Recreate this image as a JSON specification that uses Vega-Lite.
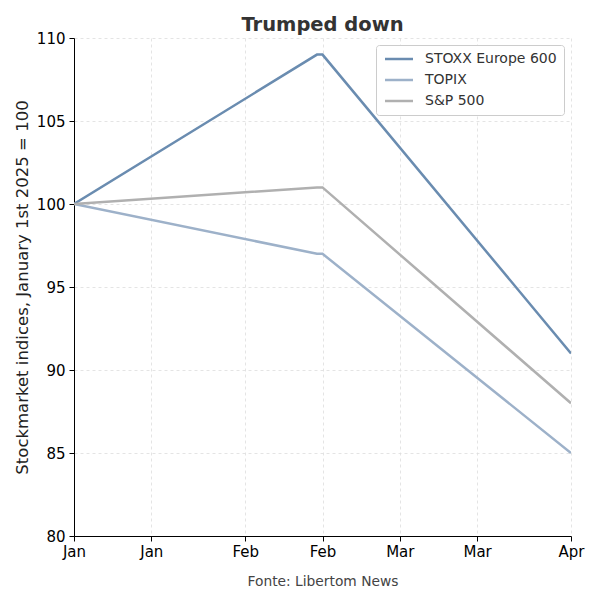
{
  "$schema": "https://vega.github.io/schema/vega-lite/v6.json",
  "autosize": "none",
  "width": 497,
  "height": 498,
  "padding": {"left": 74, "top": 38, "right": 29, "bottom": 64},
  "background": "white",
  "title": {"text": "Trumped down", "font": "DejaVu Sans", "fontSize": 19.5, "fontWeight": "bold", "color": "#333333", "anchor": "middle", "frame": "group", "offset": -4},
  "config": {
    "font": "DejaVu Sans",
    "view": {"stroke": null},
    "axis": {"gridDash": [3, 3], "gridColor": "#dddddd", "gridWidth": 0.8, "domainColor": "#000000", "tickColor": "#000000", "labelColor": "#000000", "labelFontSize": 15, "labelFont": "DejaVu Sans", "tickSize": 5}
  },
  "data": {"values": [
    {"date": "2025-01-01", "series": "STOXX Europe 600", "value": 100},
    {"date": "2025-02-14", "series": "STOXX Europe 600", "value": 109},
    {"date": "2025-02-15", "series": "STOXX Europe 600", "value": 109},
    {"date": "2025-04-01", "series": "STOXX Europe 600", "value": 91},
    {"date": "2025-01-01", "series": "TOPIX", "value": 100},
    {"date": "2025-02-14", "series": "TOPIX", "value": 97},
    {"date": "2025-02-15", "series": "TOPIX", "value": 97},
    {"date": "2025-04-01", "series": "TOPIX", "value": 85},
    {"date": "2025-01-01", "series": "S&P 500", "value": 100},
    {"date": "2025-02-14", "series": "S&P 500", "value": 101},
    {"date": "2025-02-15", "series": "S&P 500", "value": 101},
    {"date": "2025-04-01", "series": "S&P 500", "value": 88}
  ]},
  "mark": {"type": "line", "strokeWidth": 2.5, "clip": true},
  "encoding": {
    "x": {
      "field": "date", "type": "temporal",
      "scale": {"type": "utc", "domain": [{"year": 2025, "month": 1, "date": 1, "utc": true}, {"year": 2025, "month": 4, "date": 1, "utc": true}]},
      "axis": {
        "values": [
          {"year": 2025, "month": 1, "date": 1, "utc": true},
          {"year": 2025, "month": 1, "date": 15, "utc": true},
          {"year": 2025, "month": 2, "date": 1, "utc": true},
          {"year": 2025, "month": 2, "date": 15, "utc": true},
          {"year": 2025, "month": 3, "date": 1, "utc": true},
          {"year": 2025, "month": 3, "date": 15, "utc": true},
          {"year": 2025, "month": 4, "date": 1, "utc": true}
        ],
        "labelExpr": "utcFormat(datum.value, '%b')", "labelFlush": false, "labelOverlap": false,
        "labelPadding": 3,
        "title": "Fonte: Libertom News", "titleFontSize": 13.8, "titleFontWeight": "normal", "titleColor": "#444444", "titlePadding": 15, "titleFont": "DejaVu Sans"
      }
    },
    "y": {
      "field": "value", "type": "quantitative",
      "scale": {"domain": [80, 110], "nice": false, "zero": false},
      "axis": {"values": [80, 85, 90, 95, 100, 105, 110], "title": "Stockmarket indices, January 1st 2025 = 100", "titleFontSize": 16.5, "titleFontWeight": "normal", "titleColor": "#222222", "titlePadding": 6, "labelPadding": 4}
    },
    "color": {
      "field": "series", "type": "nominal",
      "scale": {"domain": ["STOXX Europe 600", "TOPIX", "S&P 500"], "range": ["#6a8cb0", "#9db1c9", "#b0b0b0"]},
      "legend": {"title": null, "orient": "top-right", "offset": 7, "symbolType": "M-1,0L4.6,0", "symbolStrokeWidth": 2.5, "symbolSize": 100, "labelFontSize": 14, "labelColor": "#333333", "labelOffset": 28, "rowPadding": 7, "strokeColor": "#cccccc", "cornerRadius": 3, "padding": 7, "fillColor": "white"}
    }
  }
}
